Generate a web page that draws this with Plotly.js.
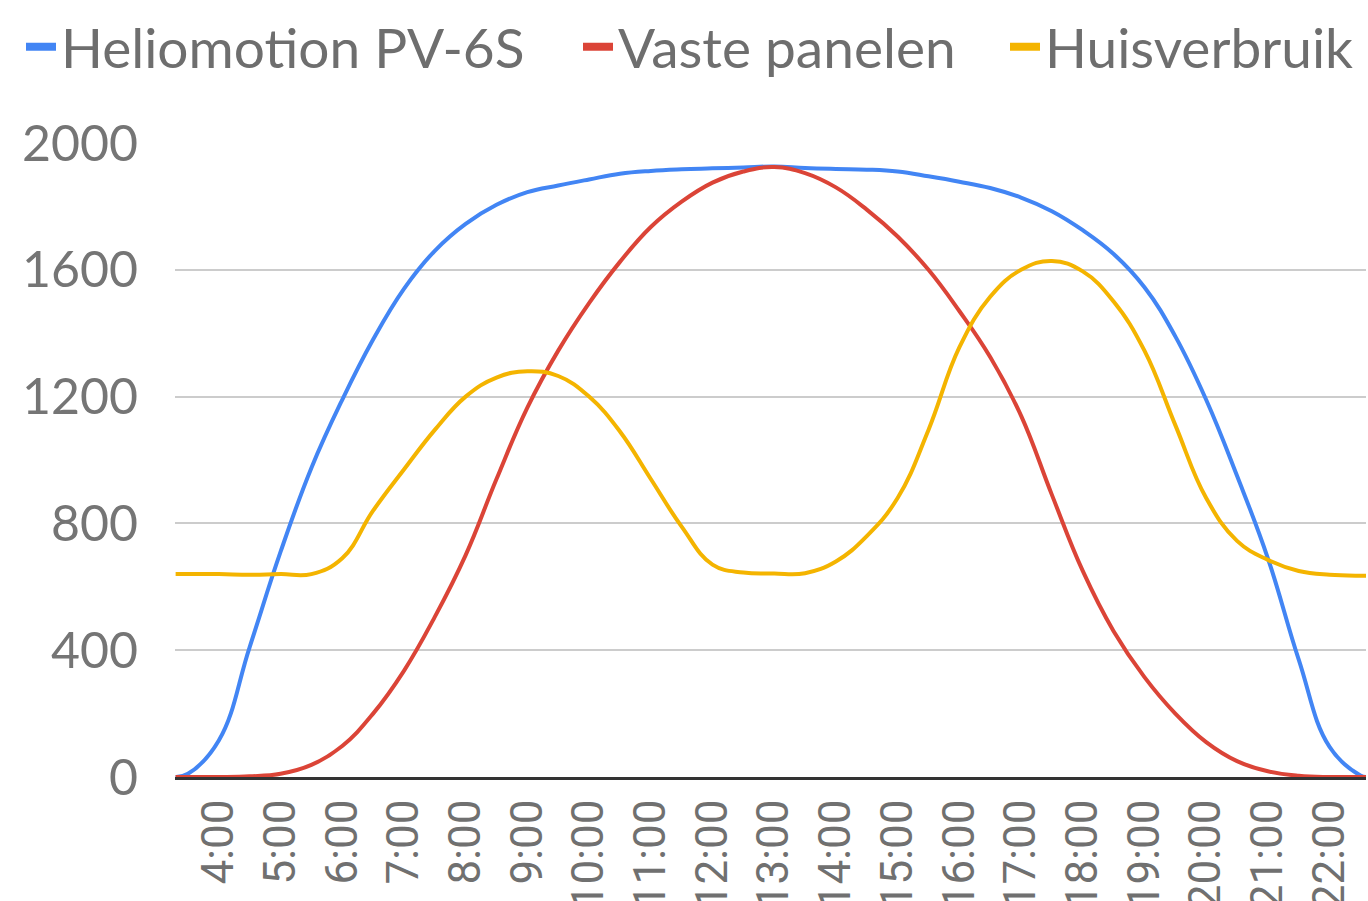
<!DOCTYPE html>
<html>
<head>
<meta charset="utf-8">
<script src="https://cdn.plot.ly/plotly-3.0.1.min.js"></script>
<style>html,body{margin:0;padding:0;background:#fff;}#chart{width:1368px;height:901px;}</style>
</head>
<body>
<div id="chart"></div>
<script>
// time of day in hours
const hours = [3.3, 3.5, 4, 4.5, 5, 5.5, 6, 6.5, 7, 7.5, 8, 8.5, 9, 9.5, 10, 10.5, 11, 11.5, 12, 12.5, 13, 13.5, 14, 14.5, 15, 15.5, 16, 16.5, 17, 17.5, 18, 18.5, 19, 19.5, 20, 20.5, 21, 21.5, 22, 22.5, 22.6];

const heliomotion = [0, 10, 115, 410, 710, 975, 1190, 1380, 1540, 1660, 1745, 1805, 1845, 1866, 1885, 1903, 1912, 1917, 1920, 1923, 1926, 1921, 1918, 1916, 1910, 1895, 1878, 1858, 1828, 1785, 1725, 1650, 1545, 1390, 1190, 950, 690, 370, 95, 5, 0];

const vastePanelen = [0, 0, 0, 2, 10, 38, 98, 200, 335, 505, 700, 940, 1165, 1345, 1495, 1625, 1735, 1815, 1875, 1910, 1924, 1905, 1860, 1790, 1705, 1600, 1470, 1325, 1140, 890, 650, 460, 315, 200, 110, 50, 18, 4, 0, 0, 0];

const huisverbruik = [640, 640, 640, 638, 640, 640, 690, 840, 970, 1095, 1200, 1260, 1280, 1265, 1200, 1090, 940, 790, 670, 645, 642, 643, 680, 760, 880, 1095, 1355, 1515, 1600, 1628, 1595, 1500, 1345, 1110, 880, 745, 685, 650, 638, 635, 635];

const tickHours = [4, 5, 6, 7, 8, 9, 10, 11, 12, 13, 14, 15, 16, 17, 18, 19, 20, 21, 22];
const tickLabels = ["4:00", "5:00", "6:00", "7:00", "8:00", "9:00", "10:00", "11:00", "12:00", "13:00", "14:00", "15:00", "16:00", "17:00", "18:00", "19:00", "20:00", "21:00", "22:00"];
const yTicks = [0, 400, 800, 1200, 1600, 2000];

const names = ["Heliomotion PV-6S", "Vaste panelen", "Huisverbruik"];
const colors = ["#4285F4", "#DB4437", "#F4B400"];
const series = [heliomotion, vastePanelen, huisverbruik];
const legendIds = ["legend", "legend2", "legend3"];

const traces = series.map((s, i) => ({
  x: hours, y: s, name: names[i], type: "scatter", mode: "lines",
  line: {color: colors[i], width: 4, shape: "spline", smoothing: 1.2},
  cliponaxis: false, showlegend: false
}));
// legend-only entries with a thicker swatch
names.forEach((n, i) => traces.push({
  x: [null], y: [null], name: n, type: "scatter", mode: "lines",
  line: {color: colors[i], width: 8}, legend: legendIds[i], showlegend: true
}));

function leg(xpx) {
  return {
    orientation: "h", xref: "container", yref: "container",
    x: xpx / 1368, y: 1 - 47 / 901, xanchor: "left", yanchor: "middle",
    font: {size: 55, color: "#6e6e6e", family: "Lato, sans-serif"},
    bgcolor: "rgba(0,0,0,0)", borderwidth: 0
  };
}

const layout = {
  width: 1368, height: 901,
  margin: {l: 175, r: 2, t: 143, b: 124, pad: 0},
  paper_bgcolor: "#fff", plot_bgcolor: "#fff",
  font: {family: "Lato, 'Open Sans', sans-serif", color: "#757575"},
  showlegend: true,
  legend: leg(21), legend2: leg(578), legend3: leg(1005),
  xaxis: {
    type: "linear", range: [3.29, 22.59],
    tickmode: "array", tickvals: tickHours, ticktext: tickLabels,
    tickangle: -90, tickfont: {family: "Roboto, sans-serif", size: 44, color: "#707070"},
    ticks: "outside", ticklen: 2, tickcolor: "rgba(0,0,0,0)",
    showgrid: false, zeroline: false,
    showline: true, linecolor: "#333333", linewidth: 3
  },
  yaxis: {
    range: [0, 2000], tickmode: "array", tickvals: yTicks,
    tickfont: {family: "Lato, sans-serif", size: 50, color: "#757575"},
    ticks: "outside", ticklen: 26, tickcolor: "rgba(0,0,0,0)",
    showgrid: true, gridcolor: "#cccccc", gridwidth: 2,
    zeroline: false, showline: false
  }
};

Plotly.newPlot("chart", traces, layout, {displayModeBar: false, staticPlot: true});
</script>
</body>
</html>
